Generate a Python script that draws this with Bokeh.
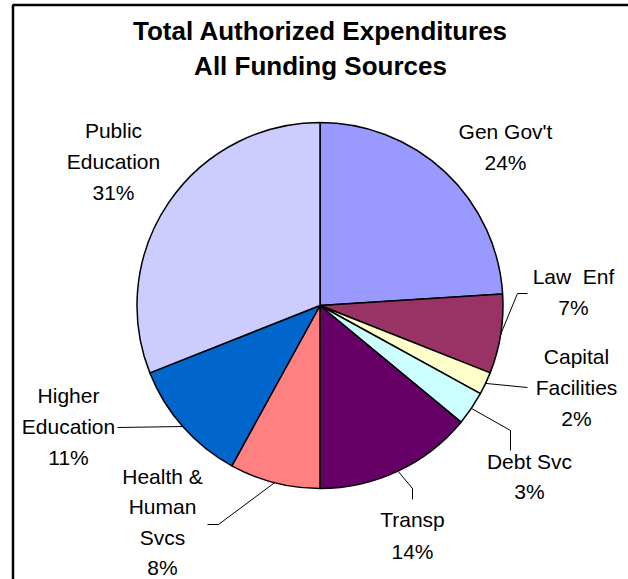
import numpy as np
from bokeh.plotting import figure
from bokeh.models import ColumnDataSource
from bokeh.core.properties import value
from bokeh.embed import file_html
from bokeh.resources import INLINE

# ---------------- data ----------------
categories = ["Gen Gov't", "Law Enf", "Capital Facilities", "Debt Svc",
              "Transp", "Health & Human Svcs", "Higher Education", "Public Education"]
shares = [24, 7, 2, 3, 14, 8, 11, 31]
colors = ["#9999FF", "#993366", "#FFFFCC", "#CCFFFF",
          "#660066", "#FF8080", "#0066CC", "#CCCCFF"]
label_lines = [["Gen Gov't"], ["Law\u00a0\u00a0Enf"], ["Capital", "Facilities"], ["Debt Svc"],
               ["Transp"], ["Health &", "Human", "Svcs"], ["Higher", "Education"],
               ["Public", "Education"]]
title_lines = ["Total Authorized Expenditures", "All Funding Sources"]

# ---------------- layout (pixel space, y measured from top) ----------------
W, H = 628, 579
CX, CY, R = 319.5, 305.0, 183.0
# label block: (center x, first line center y, line spacing)
label_pos = [(505, 131, 31), (573, 276, 31), (576, 356, 31), (529, 461, 30),
             (412, 519, 32), (162, 476, 30.3), (68, 395, 31), (113, 130, 31)]
# leader line points after the pie-edge point (None = no leader)
leaders = [None, [(517, 293), (527, 293)], [(527, 387)], [(510, 430), (510, 450)],
           [(412, 488), (412, 499)], [(218, 524), (207, 524)], [(117, 427)], None]


def Y(py):
    return H - py


p = figure(width=W, height=H, x_range=(0, W), y_range=(0, H),
           output_backend="svg", toolbar_location=None,
           x_axis_type=None, y_axis_type=None, min_border=0)
p.grid.visible = False
p.outline_line_color = None
p.background_fill_color = "white"
p.border_fill_color = "white"

# frame of the chart (cut off at right/bottom)
p.line([12.5, 12.5, W + 5], [Y(H + 5), Y(4.5), Y(4.5)], line_color="black", line_width=2.5)

# pie
vals = np.array(shares, dtype=float)
frac = vals / vals.sum()
cum = np.concatenate([[0], np.cumsum(frac)])
start = np.pi / 2 - 2 * np.pi * cum[:-1]
end = np.pi / 2 - 2 * np.pi * cum[1:]
src = ColumnDataSource(dict(start=start, end=end, color=colors, cat=categories))
p.wedge(x=CX, y=Y(CY), radius=R, start_angle="start", end_angle="end",
        direction="clock", fill_color="color", line_color="black", line_width=1.5,
        source=src)

# leader lines
mid = 2 * np.pi * (cum[:-1] + cum[1:]) / 2  # clockwise from top
for i, ld in enumerate(leaders):
    if ld is None:
        continue
    ex = CX + R * np.sin(mid[i])
    ey = CY - R * np.cos(mid[i])
    xs = [ex] + [q[0] for q in ld]
    ys = [Y(ey)] + [Y(q[1]) for q in ld]
    p.line(xs, ys, line_color="black", line_width=1)

# labels
tx, ty, tt = [], [], []
for i, lines in enumerate(label_lines):
    lx, ly, lh = label_pos[i]
    allines = lines + [f"{shares[i]}%"]
    for k, s in enumerate(allines):
        tx.append(lx)
        ty.append(Y(ly + k * lh))
        tt.append(s)
p.text(x=tx, y=ty, text=tt, text_align="center", text_baseline="middle",
       text_font=value("Liberation Sans"), text_font_size=value("21px"),
       text_color="black")

# title
p.text(x=[320, 320], y=[Y(30), Y(65)], text=title_lines, text_align="center",
       text_baseline="middle", text_font=value("Liberation Sans"),
       text_font_size=value("26px"), text_font_style="bold", text_color="black")

open("out.html", "w").write(file_html(p, INLINE))
